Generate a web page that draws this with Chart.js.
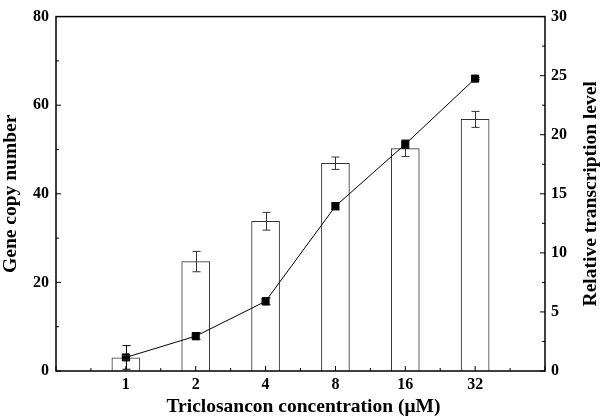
<!DOCTYPE html>
<html>
<head>
<meta charset="utf-8">
<script src="https://cdn.jsdelivr.net/npm/chart.js@4/dist/chart.umd.min.js"></script>
<style>
  body { margin: 0; background: #fff; }
  #wrap { width: 600px; height: 420px; }
</style>
</head>
<body>
<div id="wrap"><canvas id="myChart"></canvas></div>
<script>
// blank slots at both ends give the empty half-spaces seen on the x axis
const concentrations = ['', '1', '2', '4', '8', '16', '32', ''];
const geneCopy = [null, 3.0, 24.7, 33.8, 46.9, 50.2, 56.8, null];
const geneCopyErr = [null, 0.5, 2.3, 2.0, 1.4, 1.8, 1.8, null];
const transcription = [null, 1.15, 2.95, 5.9, 13.95, 19.2, 24.75, null];
const transcriptionErr = [null, 1.0, 0.3, 0.3, 0.3, 0.35, 0.1, null];
const leftTicks = [0, 20, 40, 60, 80];
const rightTicks = [0, 5, 10, 15, 20, 25, 30];

const serif = "'Liberation Serif', 'DejaVu Serif', serif";

const errorBars = {
  id: 'errorBars',
  afterDatasetsDraw(chart) {
    const ctx = chart.ctx;
    const sets = [
      { idx: 0, err: geneCopyErr, vals: geneCopy, axis: 'y', color: '#333' },
      { idx: 1, err: transcriptionErr, vals: transcription, axis: 'y1', color: '#000' }
    ];
    ctx.save();
    ctx.lineWidth = 1;
    sets.forEach(s => {
      const meta = chart.getDatasetMeta(s.idx);
      const sc = chart.scales[s.axis];
      ctx.strokeStyle = s.color;
      meta.data.forEach((el, i) => {
        if (s.vals[i] == null) return;
        const x = Math.round(el.x) + 0.5;
        const yTop = sc.getPixelForValue(s.vals[i] + s.err[i]);
        const yBot = sc.getPixelForValue(s.vals[i] - s.err[i]);
        ctx.beginPath();
        ctx.moveTo(x, yTop); ctx.lineTo(x, yBot);
        ctx.moveTo(x - 4, yTop); ctx.lineTo(x + 4, yTop);
        ctx.moveTo(x - 4, yBot); ctx.lineTo(x + 4, yBot);
        ctx.stroke();
      });
    });
    ctx.restore();
  }
};

// frame, inward ticks and axis titles
const frame = {
  id: 'frame',
  afterDraw(chart) {
    const ctx = chart.ctx;
    const a = chart.chartArea;
    const x = chart.scales.x, y = chart.scales.y, y1 = chart.scales.y1;
    ctx.save();
    ctx.strokeStyle = '#000';
    ctx.lineWidth = 1.5;
    ctx.strokeRect(a.left, a.top, a.right - a.left, a.bottom - a.top);

    ctx.lineWidth = 1;
    ctx.beginPath();
    // x ticks: major at categories, minor halfway between
    for (let i = 0; i < concentrations.length; i++) {
      const px = x.getPixelForValue(i);
      ctx.moveTo(px, a.bottom); ctx.lineTo(px, a.bottom - 5);
      if (i < concentrations.length - 1) {
        const mx = (px + x.getPixelForValue(i + 1)) / 2;
        ctx.moveTo(mx, a.bottom); ctx.lineTo(mx, a.bottom - 3);
      }
    }
    // left axis
    for (let v = 0; v <= 80; v += 10) {
      const py = y.getPixelForValue(v);
      const len = v % 20 === 0 ? 5 : 3;
      ctx.moveTo(a.left, py); ctx.lineTo(a.left + len, py);
    }
    // right axis
    for (let v = 0; v <= 30; v += 2.5) {
      const py = y1.getPixelForValue(v);
      const len = v % 5 === 0 ? 5 : 3;
      ctx.moveTo(a.right, py); ctx.lineTo(a.right - len, py);
    }
    ctx.stroke();

    ctx.fillStyle = '#000';
    ctx.font = 'bold 19.5px ' + serif;
    ctx.textAlign = 'center';
    ctx.textBaseline = 'middle';
    const cy = (a.top + a.bottom) / 2;
    ctx.fillText('Triclosancon concentration (\u03bcM)', (a.left + a.right) / 2 + 3, 407);
    ctx.save();
    ctx.translate(11, cy);
    ctx.rotate(-Math.PI / 2);
    ctx.fillText('Gene copy number', 0, 0);
    ctx.restore();
    ctx.save();
    ctx.translate(591, cy);
    ctx.rotate(-Math.PI / 2);
    ctx.fillText('Relative transcription level', 0, 0);
    ctx.restore();
    ctx.restore();
  }
};

const tickFont = { family: serif, size: 16, weight: 'bold' };

const config = {
  type: 'bar',
  data: {
    labels: concentrations,
    datasets: [
      {
        label: 'Gene copy number',
        data: geneCopy,
        yAxisID: 'y',
        backgroundColor: '#fff',
        borderColor: '#333',
        borderWidth: 1,
        barThickness: 28,
        order: 2
      },
      {
        type: 'line',
        label: 'Relative transcription level',
        data: transcription,
        yAxisID: 'y1',
        borderColor: '#000',
        borderWidth: 1,
        pointStyle: 'rect',
        pointRadius: 5,
        pointBackgroundColor: '#000',
        pointBorderColor: '#000',
        tension: 0,
        order: 1
      }
    ]
  },
  options: {
    responsive: true,
    maintainAspectRatio: false,
    animation: false,
    layout: { padding: { top: 9, left: 0, right: 0, bottom: 0 } },
    plugins: {
      legend: { display: false },
      tooltip: { enabled: false }
    },
    scales: {
      x: {
        offset: false,
        grid: { display: false, drawTicks: false },
        border: { display: false },
        ticks: { color: '#000', font: tickFont, padding: 4, maxRotation: 0, autoSkip: false },
        afterFit(s) { s.height = 49; }
      },
      y: {
        position: 'left',
        min: 0, max: 80,
        afterBuildTicks(s) { s.ticks = leftTicks.map(v => ({ value: v })); },
        grid: { display: false, drawTicks: false },
        border: { display: false },
        ticks: { color: '#000', font: tickFont, padding: 7 },
        afterFit(s) { s.width = 56; }
      },
      y1: {
        position: 'right',
        min: 0, max: 30,
        afterBuildTicks(s) { s.ticks = rightTicks.map(v => ({ value: v })); },
        grid: { display: false, drawTicks: false },
        border: { display: false },
        ticks: { color: '#000', font: tickFont, padding: 6 },
        afterFit(s) { s.width = 55; }
      }
    }
  },
  plugins: [errorBars, frame]
};

new Chart(document.getElementById('myChart'), config);
</script>
</body>
</html>
